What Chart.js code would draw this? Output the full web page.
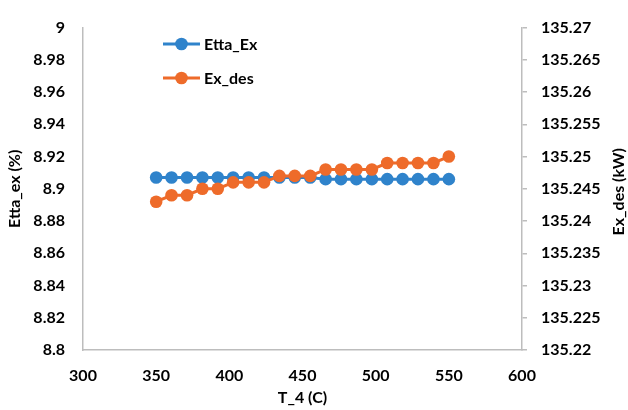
<!DOCTYPE html>
<html>
<head>
<meta charset="utf-8">
<script src="https://cdn.jsdelivr.net/npm/chart.js@4.4.1/dist/chart.umd.min.js"></script>
<style>
  html, body { margin: 0; padding: 0; background: #fff; }
  #wrap { width: 628px; height: 410px; }
</style>
</head>
<body>
<div id="wrap"><canvas id="c" width="628" height="410"></canvas></div>
<script>
// Turbine inlet temperature sweep (T_4, °C)
const temps = [350, 360.5, 371.1, 381.6, 392.1, 402.6, 413.2, 423.7, 434.2, 444.7,
               455.3, 465.8, 476.3, 486.8, 497.4, 507.9, 518.4, 528.9, 539.5, 550];
// Exergy efficiency (%)
const ettaEx = [8.907, 8.907, 8.907, 8.907, 8.907, 8.907, 8.907, 8.907, 8.907, 8.907,
                8.907, 8.906, 8.906, 8.906, 8.906, 8.906, 8.906, 8.906, 8.906, 8.906];
// Exergy destruction (kW)
const exDes = [135.243, 135.244, 135.244, 135.245, 135.245, 135.246, 135.246, 135.246, 135.247, 135.247,
               135.247, 135.248, 135.248, 135.248, 135.248, 135.249, 135.249, 135.249, 135.249, 135.250];

const xTicks = [300, 350, 400, 450, 500, 550, 600];
const leftTicks = [8.8, 8.82, 8.84, 8.86, 8.88, 8.9, 8.92, 8.94, 8.96, 8.98, 9];
const rightTicks = [135.22, 135.225, 135.23, 135.235, 135.24, 135.245, 135.25, 135.255, 135.26, 135.265, 135.27];

const seriesNames = ['Etta_Ex', 'Ex_des'];
const BLUE = '#2F83CB';
const ORANGE = '#EE6B2A';
const AXIS = '#BDBDBD';
const FONT = { family: 'Lato, "Open Sans", sans-serif', size: 16, weight: 'bold' };

const pts = (ys) => temps.map((t, i) => ({ x: t, y: ys[i] }));

// Legend inside the plot, top-left
const legendInside = {
  id: 'legendInside',
  afterDatasetsDraw(chart) {
    const ctx = chart.ctx;
    ctx.save();
    chart.data.datasets.forEach((ds, i) => {
      const y = 44 + i * 34;
      ctx.strokeStyle = ds.borderColor;
      ctx.lineWidth = 3;
      ctx.beginPath();
      ctx.moveTo(163, y);
      ctx.lineTo(200, y);
      ctx.stroke();
      ctx.fillStyle = ds.borderColor;
      ctx.beginPath();
      ctx.arc(181.5, y, 6.3, 0, Math.PI * 2);
      ctx.fill();
      ctx.fillStyle = '#000';
      ctx.font = 'bold 16px Lato, "Open Sans", sans-serif';
      ctx.textBaseline = 'middle';
      ctx.textAlign = 'left';
      ctx.fillText(ds.label, 204, y + 1);
    });
    ctx.restore();
  }
};

// Secondary axis title, reading bottom to top
const rightTitle = {
  id: 'rightTitle',
  afterDraw(chart) {
    const ctx = chart.ctx;
    const area = chart.chartArea;
    ctx.save();
    ctx.translate(619, (area.top + area.bottom) / 2 + 3);
    ctx.rotate(-Math.PI / 2);
    ctx.fillStyle = '#000';
    ctx.font = 'bold 16px Lato, "Open Sans", sans-serif';
    ctx.textAlign = 'center';
    ctx.textBaseline = 'middle';
    ctx.fillText('Ex_des (kW)', 0, 0);
    ctx.restore();
  }
};

new Chart(document.getElementById('c'), {
  type: 'line',
  data: {
    datasets: [
      {
        label: seriesNames[0],
        data: pts(ettaEx),
        yAxisID: 'yL',
        borderColor: BLUE,
        backgroundColor: BLUE,
        borderWidth: 3,
        pointRadius: 6.3,
        pointBorderWidth: 0,
        pointBackgroundColor: BLUE,
        order: 1
      },
      {
        label: seriesNames[1],
        data: pts(exDes),
        yAxisID: 'yR',
        borderColor: ORANGE,
        backgroundColor: ORANGE,
        borderWidth: 3,
        pointRadius: 6.3,
        pointBorderWidth: 0,
        pointBackgroundColor: ORANGE,
        order: 0
      }
    ]
  },
  options: {
    responsive: false,
    animation: false,
    layout: { padding: { top: 18, left: 0, right: 0, bottom: 0 } },
    plugins: {
      legend: { display: false },
      tooltip: { enabled: false }
    },
    scales: {
      x: {
        type: 'linear',
        min: 300,
        max: 600,
        afterBuildTicks: (axis) => { axis.ticks = xTicks.map(v => ({ value: v })); },
        afterFit: (axis) => { axis.height = 60; },
        grid: { display: false, drawTicks: false },
        border: { display: true, color: AXIS, width: 1.5 },
        ticks: { color: '#000', font: FONT, padding: 16, maxRotation: 0, callback: (v) => String(v) },
        title: { display: true, text: 'T_4 (C)', color: '#000', font: FONT, padding: { top: 0, bottom: 3 } }
      },
      yL: {
        type: 'linear',
        position: 'left',
        min: 8.8,
        max: 9,
        afterBuildTicks: (axis) => { axis.ticks = leftTicks.map(v => ({ value: v })); },
        afterFit: (axis) => { axis.width = 83; },
        grid: { display: false, drawTicks: false },
        border: { display: true, color: AXIS, width: 1.5 },
        ticks: { color: '#000', font: FONT, padding: 18, callback: (v) => String(v) },
        title: { display: true, text: 'Etta_ex (%)', color: '#000', font: FONT, padding: { top: 5, bottom: 0 } }
      },
      yR: {
        type: 'linear',
        position: 'right',
        min: 135.22,
        max: 135.27,
        afterBuildTicks: (axis) => { axis.ticks = rightTicks.map(v => ({ value: v })); },
        afterFit: (axis) => { axis.width = 106; },
        grid: { display: true, drawOnChartArea: false, drawTicks: true, tickLength: 5, color: AXIS, lineWidth: 1.5 },
        border: { display: true, color: AXIS, width: 1.5 },
        ticks: { color: '#000', font: FONT, padding: 14, callback: (v) => String(v) }
      }
    }
  },
  plugins: [legendInside, rightTitle]
});
</script>
</body>
</html>
